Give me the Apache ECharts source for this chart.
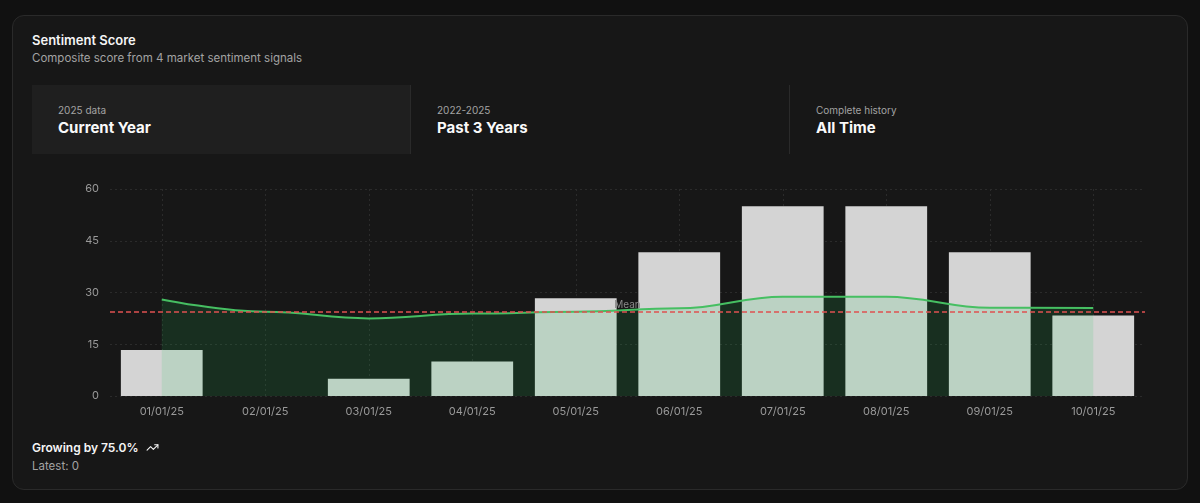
<!DOCTYPE html>
<html>
<head>
<meta charset="utf-8">
<script src="https://cdn.jsdelivr.net/npm/echarts@6/dist/echarts.min.js"></script>
<style>
  html, body { margin: 0; padding: 0; background: #111111; width: 1200px; height: 503px; overflow: hidden; font-family: Inter, "Noto Sans", sans-serif; }
  .card { position: absolute; left: 12px; top: 15px; width: 1174px; height: 473px; background: #171717; border: 1px solid #2a2a2a; border-radius: 12px; }
  .title { position: absolute; left: 32px; top: 32px; font-size: 13px; font-weight: 600; color: #f5f5f5; }
  .sub { position: absolute; left: 32px; top: 51px; font-size: 11.5px; color: #a3a3a3; }
  .tabs { position: absolute; left: 32px; top: 85px; width: 1136px; height: 69px; display: flex; }
  .tab { flex: 1; position: relative; box-sizing: border-box; padding-left: 26px; border-right: 1px solid #2a2a2a; }
  .tab:last-child { border-right: none; }
  .tab.active { background: #1f1f1f; }
  .tab .s { position: absolute; left: 26px; top: 19px; font-size: 10px; color: #a3a3a3; }
  .tab .b { position: absolute; left: 26px; top: 33px; font-size: 15px; font-weight: 700; color: #fafafa; }
  #chart { position: absolute; left: 0; top: 170px; width: 1200px; height: 260px; }
  .grow { position: absolute; left: 32px; top: 440px; font-size: 12px; font-weight: 600; color: #f5f5f5; display: flex; align-items: center; }
  .grow svg { margin-left: 7px; }
  .latest { position: absolute; left: 32px; top: 459px; font-size: 11.5px; color: #a3a3a3; }
</style>
</head>
<body>
<div class="card"></div>
<div class="title">Sentiment Score</div>
<div class="sub">Composite score from 4 market sentiment signals</div>
<div class="tabs">
  <div class="tab active"><div class="s">2025 data</div><div class="b">Current Year</div></div>
  <div class="tab"><div class="s">2022-2025</div><div class="b">Past 3 Years</div></div>
  <div class="tab"><div class="s">Complete history</div><div class="b">All Time</div></div>
</div>
<div id="chart"></div>
<div class="grow">Growing by 75.0%
  <svg width="13" height="13" viewBox="0 0 24 24" fill="none" stroke="#f5f5f5" stroke-width="2" stroke-linecap="round" stroke-linejoin="round"><polyline points="22 7 13.5 15.5 8.5 10.5 2 17"></polyline><polyline points="16 7 22 7 22 13"></polyline></svg>
</div>
<div class="latest">Latest: 0</div>
<script>
const categories = ["01/01/25","02/01/25","03/01/25","04/01/25","05/01/25","06/01/25","07/01/25","08/01/25","09/01/25","10/01/25"];
const barValues = [13.3, 0, 5, 10, 28.3, 41.7, 55, 55, 41.7, 23.3];
const lineValues = [28.0, 24.4, 22.5, 23.9, 24.4, 25.4, 28.8, 28.8, 25.6, 25.5];
const meanValue = 24.4;
const yTicks = { min: 0, max: 60, interval: 15 };

const chart = echarts.init(document.getElementById('chart'), null, { renderer: 'canvas' });
chart.setOption({
  animation: false,
  backgroundColor: 'transparent',
  grid: { left: 110, right: 55, top: 19, bottom: 34 },
  xAxis: {
    type: 'category',
    data: categories,
    axisLine: { show: false },
    axisTick: { show: false, alignWithLabel: true },
    axisLabel: { color: '#9a9a9a', fontSize: 11, margin: 10, fontFamily: 'Inter' },
    splitLine: { show: true, alignWithLabel: true, lineStyle: { color: '#2b2b2b', type: [2, 3], width: 1 } }
  },
  yAxis: {
    type: 'value',
    min: yTicks.min, max: yTicks.max, interval: yTicks.interval,
    axisLine: { show: false },
    axisTick: { show: false },
    axisLabel: { color: '#9a9a9a', fontSize: 11, margin: 11, fontFamily: 'Inter' },
    splitLine: { show: true, lineStyle: { color: '#2b2b2b', type: [2, 3], width: 1 } }
  },
  series: [
    {
      type: 'bar',
      data: barValues,
      barWidth: '79%',
      itemStyle: { color: '#d4d4d4' },
      z: 2
    },
    {
      type: 'line',
      data: lineValues,
      smooth: 0.4,
      smoothMonotone: 'x',
      symbol: 'none',
      lineStyle: { color: '#46bf62', width: 2 },
      areaStyle: { color: 'rgba(34,197,94,0.2)', origin: 'start' },
      z: 3,
      markLine: {
        silent: true,
        symbol: 'none',
        data: [{ yAxis: meanValue }],
        lineStyle: { color: '#e05252', type: [5, 3], width: 1.5 },
        label: { show: true, formatter: 'Mean', position: 'middle', color: '#8a8a8a', fontSize: 10, distance: 2, fontFamily: 'Inter' }
      }
    }
  ]
});
</script>
</body>
</html>
